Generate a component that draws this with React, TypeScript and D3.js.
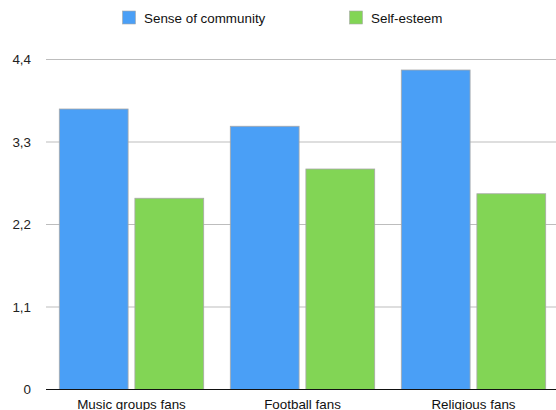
import React, { useRef, useEffect } from 'react'
import * as d3 from 'd3'

const categories = ['Music groups fans', 'Football fans', 'Religious fans']
const seriesNames = ['Sense of community', 'Self-esteem']
const communityValues = [3.74, 3.51, 4.26]
const esteemValues = [2.55, 2.94, 2.61]
const yTicks = [0, 1.1, 2.2, 3.3, 4.4]
const colors = ['#4A9FF6', '#82D555']

const W = 556
const H = 410

const App = () => {
    const ref = useRef<SVGSVGElement | null>(null)

    useEffect(() => {
        if (!ref.current) return
        const svg = d3.select(ref.current)
        svg.selectAll('*').remove()

        const font = '"Liberation Sans", Helvetica, Arial, sans-serif'
        const fs = 13.4

        const x = d3.scaleBand<string>()
            .domain(categories)
            .range([46, 559])
            .paddingInner(0)
            .paddingOuter(0)

        const inner = d3.scaleBand<string>()
            .domain(seriesNames)
            .range([13.3, x.bandwidth() - 13.3])
            .paddingInner(0.09)

        const y = d3.scaleLinear()
            .domain([0, 4.4])
            .range([389.5, 59.5])

        // grid
        svg.append('g')
            .selectAll('line')
            .data(yTicks.filter(t => t > 0))
            .join('line')
            .attr('x1', 46)
            .attr('x2', W)
            .attr('y1', d => y(d))
            .attr('y2', d => y(d))
            .attr('stroke', '#bdbdbd')
            .attr('stroke-width', 1.2)

        // y labels
        svg.append('g')
            .selectAll('text')
            .data(yTicks)
            .join('text')
            .attr('x', 31)
            .attr('y', d => y(d) + 4.5)
            .attr('text-anchor', 'end')
            .attr('font-family', font)
            .attr('font-size', fs)
            .attr('fill', '#222')
            .text(d => d3.format('.1f')(d).replace('.', ',').replace(/^0,0$/, '0'))

        const rows = categories.map((c, i) => ({
            cat: c,
            vals: [communityValues[i], esteemValues[i]]
        }))

        const groups = svg.append('g')
            .selectAll('g')
            .data(rows)
            .join('g')
            .attr('transform', d => `translate(${x(d.cat)},0)`)

        groups.selectAll('rect')
            .data(d => d.vals.map((v, j) => ({ v, name: seriesNames[j], j })))
            .join('rect')
            .attr('x', d => inner(d.name)!)
            .attr('width', inner.bandwidth())
            .attr('y', d => y(d.v))
            .attr('height', d => y(0) - y(d.v))
            .attr('fill', d => colors[d.j])
            .attr('stroke', '#a8a8a8')
            .attr('stroke-width', 0.8)

        // axis line
        svg.append('line')
            .attr('x1', 46)
            .attr('x2', W)
            .attr('y1', 389.5)
            .attr('y2', 389.5)
            .attr('stroke', '#111')
            .attr('stroke-width', 1.2)

        // x labels
        svg.append('g')
            .selectAll('text')
            .data(categories)
            .join('text')
            .attr('x', d => x(d)! + x.bandwidth() / 2)
            .attr('y', 408.5)
            .attr('text-anchor', 'middle')
            .attr('font-family', font)
            .attr('font-size', fs)
            .attr('fill', '#111')
            .text(d => d)

        // legend
        const legendX = [122.5, 349.5]
        const legend = svg.append('g')
            .selectAll('g')
            .data(seriesNames)
            .join('g')
            .attr('transform', (d, i) => `translate(${legendX[i]},11)`)
        legend.append('rect')
            .attr('width', 13)
            .attr('height', 13)
            .attr('fill', (d, i) => colors[i])
            .attr('stroke', '#a8a8a8')
            .attr('stroke-width', 0.6)
        legend.append('text')
            .attr('x', 21.5)
            .attr('y', 11.7)
            .attr('font-family', font)
            .attr('font-size', fs)
            .attr('fill', '#111')
            .text(d => d)
    }, [])

    return (
        <svg ref={ref} width={W} height={H}
            style={{ position: 'absolute', left: 0, top: 0, background: '#fff' }} />
    )
}

export default App
